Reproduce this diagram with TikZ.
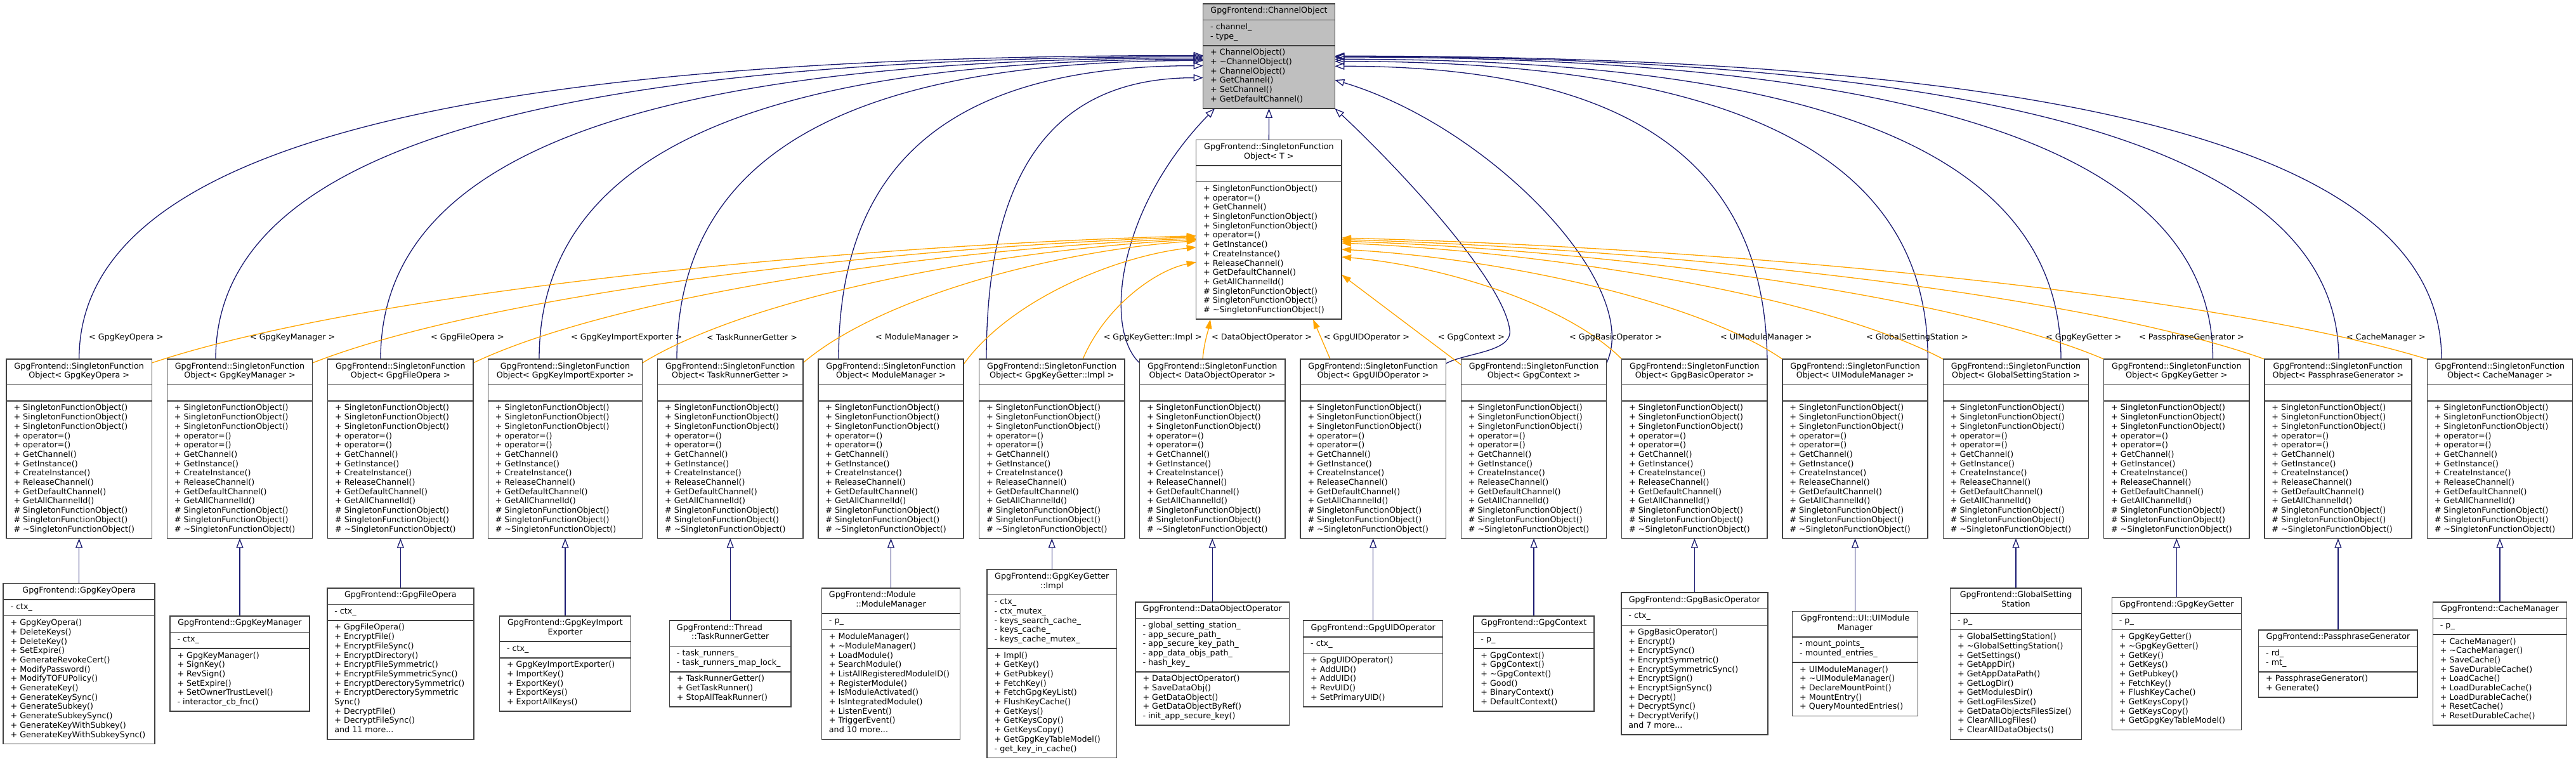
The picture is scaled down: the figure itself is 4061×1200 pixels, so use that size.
\documentclass[tikz,border=0pt]{standalone}
\usepackage{fontspec}
\setmainfont{DejaVu Sans}
\usetikzlibrary{arrows.meta}
\definecolor{navyedge}{HTML}{191970}
\definecolor{orangeedge}{HTML}{FFA500}
\definecolor{boxline}{HTML}{404040}
\definecolor{chanfill}{HTML}{BFBFBF}
\pgfdeclarelayer{bg}\pgfsetlayers{bg,main}
\newcommand\tld{\textasciitilde}
\newcommand\sfoM{+ SingletonFunctionObject()\\+ SingletonFunctionObject()\\+ SingletonFunctionObject()\\+ operator=()\\+ operator=()\\+ GetChannel()\\+ GetInstance()\\+ CreateInstance()\\+ ReleaseChannel()\\+ GetDefaultChannel()\\+ GetAllChannelId()\\\# SingletonFunctionObject()\\\# SingletonFunctionObject()\\\# \tld SingletonFunctionObject()}
\newcommand\sfoH[1]{GpgFrontend::SingletonFunction\\Object< #1 >}
\newcommand\cbset[6]{\def\cbX{#1}\def\cbY{#2}\def\cbW{#3}\def\cbNh{#4}\def\cbNa{#5}\def\cbNm{#6}}
\newcommand\classbox[5]{%
  \pgfmathsetmacro\cbHa{14.7*\cbNh+10.9}%
  \pgfmathsetmacro\cbHb{14.7*\cbNa+10.9}%
  \pgfmathsetmacro\cbHc{14.7*\cbNm+10.9}%
  \pgfmathsetmacro\cbH{\cbHa+\cbHb+\cbHc}%
  \pgfmathsetmacro\cbT{\cbY-\cbH/2}%
  \pgfmathsetmacro\cbL{\cbX-\cbW/2}%
  \pgfmathsetmacro\cbR{\cbX+\cbW/2}%
  \pgfmathsetmacro\cbSa{\cbT+\cbHa}%
  \pgfmathsetmacro\cbSb{\cbSa+\cbHb}%
  \node[cbframe, fill=#2, minimum width=\cbW pt, minimum height=\cbH pt] (#1) at (\cbX,\cbY) {};
  \draw[cbsep] (\cbL,\cbSa) -- (\cbR,\cbSa) (\cbL,\cbSb) -- (\cbR,\cbSb);
  \node[cbtext, align=center, anchor=north] (#1-h) at (\cbX,\cbT+4.7) {\strut #3};
  \node[cbtext, align=left, anchor=north west] (#1-a) at (\cbL+11.5,\cbSa+4.7) {\strut #4};
  \node[cbtext, align=left, anchor=north west] (#1-m) at (\cbL+11.5,\cbSb+4.7) {\strut #5};
}
% navy edge from a box top to a side of ChannelObject
\newcommand\nedge[6]{%
  \pgfmathsetmacro\ctlA{#3}\pgfmathsetmacro\ctlB{#4-0.66*(#4-#6)}%
  \pgfmathsetmacro\ctlC{#3+0.3*(#5-#3)}\pgfmathsetmacro\ctlD{#6}%
  \draw[iedge] (#1) .. controls (\ctlA,\ctlB) and (\ctlC,\ctlD) .. (#2);}
% orange edge from a box to the template
\newcommand\oedge[6]{%
  \pgfmathsetmacro\ctlA{#3+0.2*(#5-#3)}\pgfmathsetmacro\ctlB{#4-0.55*(#4-#6)}%
  \pgfmathsetmacro\ctlC{#5-0.35*(#5-#3)}\pgfmathsetmacro\ctlD{#6+0.08*(#4-#6)}%
  \draw[tedge] (#1) .. controls (\ctlA,\ctlB) and (\ctlC,\ctlD) .. (#2);}
\tikzset{
  cbframe/.style={draw=boxline, line width=1.5pt, rectangle, inner sep=0pt, outer sep=0pt},
  cbsep/.style={draw=boxline, line width=1.5pt},
  cbtext/.style={font=\fontsize{12.7}{14.7}\selectfont, inner sep=0pt, outer sep=0pt},
  iedge/.style={draw=navyedge, line width=1.3pt, -{Triangle[open, length=15pt, width=11pt]}},
  tedge/.style={draw=orangeedge, line width=1.3pt, -{Triangle[length=15pt, width=10pt]}},
  lbl/.style={font=\fontsize{12.7}{14.7}\selectfont, inner sep=0pt, anchor=west}
}
\begin{document}
\begin{tikzpicture}[x=1pt,y=-1pt]
\useasboundingbox (0,0) rectangle (4061,1200);
\begin{pgfonlayer}{bg}
\fill[white] (0,0) rectangle (4061,1200);
\end{pgfonlayer}
% ---- top classes
\cbset{2000.5}{88.4}{207.6}{1}{2}{6}
\classbox{chan}{chanfill}{GpgFrontend::ChannelObject}{- channel\_\\- type\_}{+ ChannelObject()\\+ \tld ChannelObject()\\+ ChannelObject()\\+ GetChannel()\\+ SetChannel()\\+ GetDefaultChannel()}
\cbset{2000.35}{361.9}{229.3}{2}{1}{14}
\classbox{tmpl}{white}{GpgFrontend::SingletonFunction\\Object< T >}{}{+ SingletonFunctionObject()\\+ operator=()\\+ GetChannel()\\+ SingletonFunctionObject()\\+ SingletonFunctionObject()\\+ operator=()\\+ GetInstance()\\+ CreateInstance()\\+ ReleaseChannel()\\+ GetDefaultChannel()\\+ GetAllChannelId()\\\# SingletonFunctionObject()\\\# SingletonFunctionObject()\\\# \tld SingletonFunctionObject()}
% ---- middle row
\cbset{124.65}{707.3}{229.3}{2}{1}{14}\classbox{m1}{white}{\sfoH{GpgKeyOpera}}{}{\sfoM}
\cbset{378.0}{707.3}{229.3}{2}{1}{14}\classbox{m2}{white}{\sfoH{GpgKeyManager}}{}{\sfoM}
\cbset{631.35}{707.3}{229.3}{2}{1}{14}\classbox{m3}{white}{\sfoH{GpgFileOpera}}{}{\sfoM}
\cbset{891.0}{707.3}{243.4}{2}{1}{14}\classbox{m4}{white}{\sfoH{GpgKeyImportExporter}}{}{\sfoM}
\cbset{1151.25}{707.3}{229.3}{2}{1}{14}\classbox{m5}{white}{\sfoH{TaskRunnerGetter}}{}{\sfoM}
\cbset{1404.5}{707.3}{229.3}{2}{1}{14}\classbox{m6}{white}{\sfoH{ModuleManager}}{}{\sfoM}
\cbset{1658.25}{707.3}{229.3}{2}{1}{14}\classbox{m7}{white}{\sfoH{GpgKeyGetter::Impl}}{}{\sfoM}
\cbset{1911.2}{707.3}{229.3}{2}{1}{14}\classbox{m8}{white}{\sfoH{DataObjectOperator}}{}{\sfoM}
\cbset{2164.65}{707.3}{229.3}{2}{1}{14}\classbox{m9}{white}{\sfoH{GpgUIDOperator}}{}{\sfoM}
\cbset{2418.05}{707.3}{229.3}{2}{1}{14}\classbox{m10}{white}{\sfoH{GpgContext}}{}{\sfoM}
\cbset{2671.35}{707.3}{229.3}{2}{1}{14}\classbox{m11}{white}{\sfoH{GpgBasicOperator}}{}{\sfoM}
\cbset{2924.55}{707.3}{229.3}{2}{1}{14}\classbox{m12}{white}{\sfoH{UIModuleManager}}{}{\sfoM}
\cbset{3178.0}{707.3}{229.3}{2}{1}{14}\classbox{m13}{white}{\sfoH{GlobalSettingStation}}{}{\sfoM}
\cbset{3431.35}{707.3}{229.3}{2}{1}{14}\classbox{m14}{white}{\sfoH{GpgKeyGetter}}{}{\sfoM}
\cbset{3685.9}{707.3}{232.0}{2}{1}{14}\classbox{m15}{white}{\sfoH{PassphraseGenerator}}{}{\sfoM}
\cbset{3940.9}{707.3}{229.3}{2}{1}{14}\classbox{m16}{white}{\sfoH{CacheManager}}{}{\sfoM}
% ---- bottom row
\cbset{124.65}{1046}{239}{1}{1}{13}
\classbox{b1}{white}{GpgFrontend::GpgKeyOpera}{- ctx\_}{+ GpgKeyOpera()\\+ DeleteKeys()\\+ DeleteKey()\\+ SetExpire()\\+ GenerateRevokeCert()\\+ ModifyPassword()\\+ ModifyTOFUPolicy()\\+ GenerateKey()\\+ GenerateKeySync()\\+ GenerateSubkey()\\+ GenerateSubkeySync()\\+ GenerateKeyWithSubkey()\\+ GenerateKeyWithSubkeySync()}
\cbset{378.0}{1046}{220}{1}{1}{6}
\classbox{b2}{white}{GpgFrontend::GpgKeyManager}{- ctx\_}{+ GpgKeyManager()\\+ SignKey()\\+ RevSign()\\+ SetExpire()\\+ SetOwnerTrustLevel()\\- interactor\_cb\_fnc()}
\cbset{631.35}{1046}{231}{1}{1}{12}
\classbox{b3}{white}{GpgFrontend::GpgFileOpera}{- ctx\_}{+ GpgFileOpera()\\+ EncryptFile()\\+ EncryptFileSync()\\+ EncryptDirectory()\\+ EncryptFileSymmetric()\\+ EncryptFileSymmetricSync()\\+ EncryptDerectorySymmetric()\\+ EncryptDerectorySymmetric\\Sync()\\+ DecryptFile()\\+ DecryptFileSync()\\and 11 more...}
\cbset{891.0}{1046}{207}{2}{1}{5}
\classbox{b4}{white}{GpgFrontend::GpgKeyImport\\Exporter}{- ctx\_}{+ GpgKeyImportExporter()\\+ ImportKey()\\+ ExportKey()\\+ ExportKeys()\\+ ExportAllKeys()}
\cbset{1151.25}{1046}{191.7}{2}{2}{3}
\classbox{b5}{white}{\makebox[168.7pt][l]{GpgFrontend::Thread}\\::TaskRunnerGetter}{- task\_runners\_\\- task\_runners\_map\_lock\_}{+ TaskRunnerGetter()\\+ GetTaskRunner()\\+ StopAllTeakRunner()}
\cbset{1404.5}{1046}{218.2}{2}{1}{11}
\classbox{b6}{white}{\makebox[195.2pt][l]{GpgFrontend::Module}\\::ModuleManager}{- p\_}{+ ModuleManager()\\+ \tld ModuleManager()\\+ LoadModule()\\+ SearchModule()\\+ ListAllRegisteredModuleID()\\+ RegisterModule()\\+ IsModuleActivated()\\+ IsIntegratedModule()\\+ ListenEvent()\\+ TriggerEvent()\\and 10 more...}
\cbset{1658.25}{1046}{204.1}{2}{5}{11}
\classbox{b7}{white}{GpgFrontend::GpgKeyGetter\\::Impl}{- ctx\_\\- ctx\_mutex\_\\- keys\_search\_cache\_\\- keys\_cache\_\\- keys\_cache\_mutex\_}{+ Impl()\\+ GetKey()\\+ GetPubkey()\\+ FetchKey()\\+ FetchGpgKeyList()\\+ FlushKeyCache()\\+ GetKeys()\\+ GetKeysCopy()\\+ GetKeysCopy()\\+ GetGpgKeyTableModel()\\- get\_key\_in\_cache()}
\cbset{1911.2}{1046}{242.4}{1}{5}{5}
\classbox{b8}{white}{GpgFrontend::DataObjectOperator}{- global\_setting\_station\_\\- app\_secure\_path\_\\- app\_secure\_key\_path\_\\- app\_data\_objs\_path\_\\- hash\_key\_}{+ DataObjectOperator()\\+ SaveDataObj()\\+ GetDataObject()\\+ GetDataObjectByRef()\\- init\_app\_secure\_key()}
\cbset{2164.65}{1046}{220}{1}{1}{5}
\classbox{b9}{white}{GpgFrontend::GpgUIDOperator}{- ctx\_}{+ GpgUIDOperator()\\+ AddUID()\\+ AddUID()\\+ RevUID()\\+ SetPrimaryUID()}
\cbset{2418.05}{1046}{190.2}{1}{1}{6}
\classbox{b10}{white}{GpgFrontend::GpgContext}{- p\_}{+ GpgContext()\\+ GpgContext()\\+ \tld GpgContext()\\+ Good()\\+ BinaryContext()\\+ DefaultContext()}
\cbset{2671.35}{1046}{230.9}{1}{1}{11}
\classbox{b11}{white}{GpgFrontend::GpgBasicOperator}{- ctx\_}{+ GpgBasicOperator()\\+ Encrypt()\\+ EncryptSync()\\+ EncryptSymmetric()\\+ EncryptSymmetricSync()\\+ EncryptSign()\\+ EncryptSignSync()\\+ Decrypt()\\+ DecryptSync()\\+ DecryptVerify()\\and 7 more...}
\cbset{2924.55}{1046}{197.7}{2}{2}{5}
\classbox{b12}{white}{GpgFrontend::UI::UIModule\\Manager}{- mount\_points\_\\- mounted\_entries\_}{+ UIModuleManager()\\+ \tld UIModuleManager()\\+ DeclareMountPoint()\\+ MountEntry()\\+ QueryMountedEntries()}
\cbset{3178.0}{1046}{206.8}{2}{1}{11}
\classbox{b13}{white}{GpgFrontend::GlobalSetting\\Station}{- p\_}{+ GlobalSettingStation()\\+ \tld GlobalSettingStation()\\+ GetSettings()\\+ GetAppDir()\\+ GetAppDataPath()\\+ GetLogDir()\\+ GetModulesDir()\\+ GetLogFilesSize()\\+ GetDataObjectsFilesSize()\\+ ClearAllLogFiles()\\+ ClearAllDataObjects()}
\cbset{3431.35}{1046}{204.1}{1}{1}{10}
\classbox{b14}{white}{GpgFrontend::GpgKeyGetter}{- p\_}{+ GpgKeyGetter()\\+ \tld GpgKeyGetter()\\+ GetKey()\\+ GetKeys()\\+ GetPubkey()\\+ FetchKey()\\+ FlushKeyCache()\\+ GetKeysCopy()\\+ GetKeysCopy()\\+ GetGpgKeyTableModel()}
\cbset{3685.9}{1046}{250.4}{1}{2}{2}
\classbox{b15}{white}{GpgFrontend::PassphraseGenerator}{- rd\_\\- mt\_}{+ PassphraseGenerator()\\+ Generate()}
\cbset{3940.9}{1046}{211.2}{1}{1}{9}
\classbox{b16}{white}{GpgFrontend::CacheManager}{- p\_}{+ CacheManager()\\+ \tld CacheManager()\\+ SaveCache()\\+ SaveDurableCache()\\+ LoadCache()\\+ LoadDurableCache()\\+ LoadDurableCache()\\+ ResetCache()\\+ ResetDurableCache()}
% ---- edge labels
\node[lbl] (l1) at (140,532) {< GpgKeyOpera >};
\node[lbl] (l2) at (394,532) {< GpgKeyManager >};
\node[lbl] (l3) at (679,532) {< GpgFileOpera >};
\node[lbl] (l4) at (900,532) {< GpgKeyImportExporter >};
\node[lbl] (l5) at (1114,532) {< TaskRunnerGetter >};
\node[lbl] (l6) at (1380,532) {< ModuleManager >};
\node[lbl, anchor=east] (l7) at (1895,532) {< GpgKeyGetter::Impl >};
\node[lbl] (l8) at (1910,532) {< DataObjectOperator >};
\node[lbl] (l9) at (2086.7,532) {< GpgUIDOperator >};
\node[lbl] (l10) at (2266.7,532) {< GpgContext >};
\node[lbl] (l11) at (2474,532) {< GpgBasicOperator >};
\node[lbl] (l12) at (2712,532) {< UIModuleManager >};
\node[lbl] (l13) at (2942,532) {< GlobalSettingStation >};
\node[lbl] (l14) at (3225,532) {< GpgKeyGetter >};
\node[lbl] (l15) at (3372,532) {< PassphraseGenerator >};
\node[lbl] (l16) at (3699,532) {< CacheManager >};
% ---- edges
\begin{pgfonlayer}{bg}
\draw[iedge] (tmpl.north) -- (chan.south);
\foreach \i in {1,...,16} {\draw[iedge] (b\i.north) -- (b\i.north |- m\i.south);}
% navy: middle row -> ChannelObject, left side
\nedge{m1.north -| 124.7,0}{chan.west |- 0,87.5}{124.7}{566}{1896.7}{87.5}
\nedge{m2.north -| 340,0}{chan.west |- 0,89.5}{340}{566}{1896.7}{89.5}
\nedge{m3.north -| 600,0}{chan.west |- 0,91.5}{600}{566}{1896.7}{91.5}
\nedge{m4.north -| 850,0}{chan.west |- 0,93.5}{850}{566}{1896.7}{93.5}
\nedge{m5.north -| 1067,0}{chan.west |- 0,95.5}{1067}{566}{1896.7}{95.5}
\nedge{m6.north -| 1322,0}{chan.west |- 0,103.6}{1322}{566}{1896.7}{103.6}
\nedge{m7.north -| 1555,0}{chan.west |- 0,122.6}{1555}{566}{1896.7}{122.6}
\draw[iedge] (m8.west |- 0,572) .. controls (1740,520) and (1760,330) .. (chan.south -| 1915,0);
\draw[iedge] (m9.east |- 0,573) .. controls (2310,556) and (2385,555) .. (2380,520) .. controls (2370,440) and (2200,260) .. (chan.south east);
\draw[iedge] (m10.east |- 0,572) .. controls (2590,450) and (2350,200) .. (chan.east |- 0,126);
\nedge{m11.east |- 0,576}{chan.east |- 0,104.3}{2786}{576}{2104.3}{104.3}
\nedge{m12.north east}{chan.east |- 0,96.7}{3039.2}{566}{2104.3}{96.7}
\nedge{m13.north -| 3249,0}{chan.east |- 0,93.3}{3249}{566}{2104.3}{93.3}
\nedge{m14.north -| 3488.5,0}{chan.east |- 0,90}{3488.5}{566}{2104.3}{90}
\nedge{m15.north -| 3687,0}{chan.east |- 0,89}{3687}{566}{2104.3}{89}
\nedge{m16.north -| 3849,0}{chan.east |- 0,88.3}{3849}{566}{2104.3}{88.3}
% orange: instances -> template
\oedge{m1.east |- 0,572}{tmpl.west |- 0,371.7}{239.3}{572}{1885.7}{371.7}
\oedge{m2.east |- 0,572}{tmpl.west |- 0,373.5}{492.7}{572}{1885.7}{373.5}
\oedge{m3.east |- 0,572}{tmpl.west |- 0,375.6}{746}{572}{1885.7}{375.6}
\oedge{m4.east |- 0,572}{tmpl.west |- 0,377.5}{1012.7}{572}{1885.7}{377.5}
\oedge{m5.east |- 0,572}{tmpl.west |- 0,379.6}{1266.1}{572}{1885.7}{379.6}
\oedge{m6.east |- 0,574}{tmpl.west |- 0,389.5}{1519.2}{574}{1885.7}{389.5}
\oedge{m7.north -| 1707,0}{tmpl.west |- 0,413.2}{1707}{566}{1885.7}{413.2}
\draw[tedge] (m8.north -| 1896,0) .. controls (1898,540) and (1905,520) .. (tmpl.south -| 1908,0);
\draw[tedge] (m9.north -| 2097,0) -- (tmpl.south -| 2070,0);
\draw[tedge] (m10.west |- 0,575) -- (tmpl.east |- 0,433);
\oedge{m11.north west}{tmpl.east |- 0,405}{2556.7}{566}{2115}{405}
\oedge{m12.north west}{tmpl.east |- 0,393}{2809.9}{566}{2115}{393}
\oedge{m13.north west}{tmpl.east |- 0,383}{3063.3}{566}{2115}{383}
\oedge{m14.north west}{tmpl.east |- 0,380}{3316.8}{566}{2115}{380}
\oedge{m15.north west}{tmpl.east |- 0,377.5}{3570}{566}{2115}{377.5}
\oedge{m16.north west}{tmpl.east |- 0,375}{3826.2}{566}{2115}{375}
\end{pgfonlayer}
\end{tikzpicture}
\end{document}
